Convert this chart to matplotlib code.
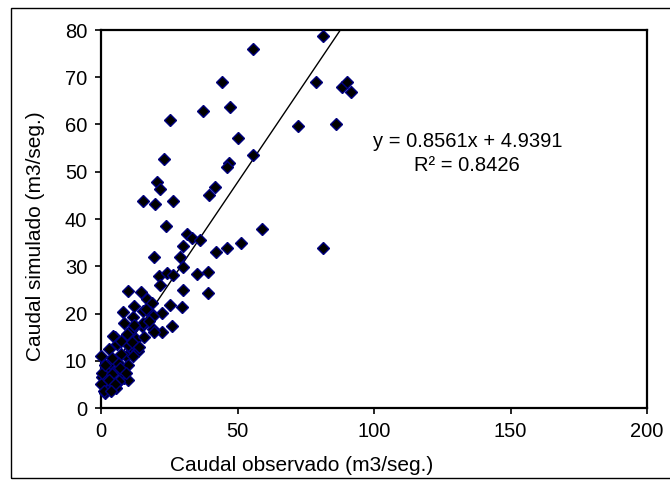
import matplotlib
matplotlib.use("Agg")
import matplotlib.pyplot as plt
from matplotlib.patches import Rectangle

plt.rcParams['font.family'] = ['Liberation Sans', 'DejaVu Sans']

observado = [
    81.4, 55.8, 44.5, 78.7, 88.2, 90.0, 91.4, 47.3, 37.3, 25.4,
    72.3, 86.1, 50.2, 55.8, 23.1, 47.0, 46.2, 20.5, 21.6, 41.8,
    39.5, 15.5, 19.6, 26.2, 23.8, 58.8, 31.5, 33.2, 36.3, 29.9,
    51.4, 46.3, 42.0, 81.2, 19.4, 28.9, 29.9, 39.3, 35.0, 21.4,
    24.3, 26.2, 21.6, 29.9, 39.3, 9.8, 14.5, 16.7, 18.7, 25.1,
    29.6, 22.3, 15.5, 18.0, 11.6, 19.2, 8.0, 25.9, 19.2, 22.4,
    14.9, 10.6, 5.1, 9.4, 13.0, 10.6, 13.3, 0.0, 9.0, 5.7,
    10.0, 2.7, 4.5, 0.2, 8.5, 6.3, 2.1, 0.0, 4.5, 9.4,
    12.5, 15.5, 19.5, 10.0, 13.7, 7.3, 3.3, 6.3, 0.5, 3.9,
    7.6, 10.0, 6.6, 2.9, 5.4, 1.5, 3.0, 6.0, 7.5, 11.5,
    12.0, 15.8, 8.5, 4.0, 1.5, 7.0, 11.8, 3.0, 5.0, 9.0,
    1.0, 3.8, 12.0, 17.5, 14.0, 16.5,
]
simulado = [
    78.8, 75.9, 68.9, 68.9, 67.9, 68.9, 66.9, 63.7, 62.8, 60.9,
    59.6, 60.2, 57.2, 53.6, 52.8, 51.8, 50.9, 47.9, 46.4, 46.7,
    45.0, 43.9, 43.2, 43.9, 38.5, 37.9, 36.9, 35.9, 35.6, 34.2,
    34.9, 33.8, 33.1, 33.9, 32.0, 32.0, 29.9, 28.7, 28.3, 27.9,
    28.6, 28.1, 26.0, 25.0, 24.4, 24.8, 24.5, 23.0, 22.3, 21.9,
    21.3, 20.2, 20.6, 20.4, 19.2, 19.5, 20.3, 17.3, 16.7, 16.1,
    17.4, 16.2, 15.0, 15.2, 14.5, 13.0, 12.0, 11.0, 10.9, 9.8,
    9.1, 8.7, 7.5, 6.6, 6.3, 5.4, 4.5, 5.0, 15.2, 15.7,
    17.4, 17.9, 16.1, 13.3, 12.1, 11.4, 9.6, 9.5, 7.5, 7.3,
    7.7, 5.9, 5.8, 4.0, 4.2, 3.2, 12.5, 13.5, 14.2, 14.0,
    17.6, 15.0, 18.0, 10.5, 9.0, 8.5, 11.0, 6.0, 5.0, 7.5,
    3.5, 3.6, 21.5, 18.5, 13.0, 21.0,
]

# linear trendline as printed on the chart
pendiente = 0.8561
intercepto = 4.9391
r2 = 0.8426

x_ticks = [0, 50, 100, 150, 200]
y_ticks = [0, 10, 20, 30, 40, 50, 60, 70, 80]

fig = plt.figure(figsize=(6.7, 4.86), dpi=100)
# chart area frame (runs off the right edge, as in the original)
fig.patches.append(Rectangle((11 / 670, 8 / 486), 1.0, 470 / 486,
                             transform=fig.transFigure, fill=False,
                             edgecolor='black', linewidth=1.0))

ax = fig.add_axes([101 / 670, 78 / 486, 546 / 670, 378 / 486])

x0, x1 = min(observado), max(observado)
ax.plot([x0, x1], [pendiente * x0 + intercepto, pendiente * x1 + intercepto],
        color='black', linewidth=1.0, zorder=2)
ax.plot(observado, simulado, linestyle='none', marker='D', markersize=6,
        markerfacecolor='black', markeredgecolor='#000080',
        markeredgewidth=1.0, zorder=3, clip_on=False)

ax.set_xlim(0, 200)
ax.set_ylim(0, 80)
ax.set_xticks(x_ticks)
ax.set_yticks(y_ticks)
ax.tick_params(direction='out', length=4, width=1.2, labelsize=14.5, pad=6)
for s in ax.spines.values():
    s.set_linewidth(1.6)

# axis titles sit off-centre in the original, so place them by hand
fig.text(302 / 670, 1 - 465 / 486, 'Caudal observado (m3/seg.)',
         ha='center', va='center', fontsize=15)
fig.text(36 / 670, 1 - 236 / 486, 'Caudal simulado (m3/seg.)',
         ha='center', va='center', rotation=90, fontsize=15)

ax.text(134.2, 56.4, 'y = %.4fx + %.4f' % (pendiente, intercepto),
        ha='center', va='center', fontsize=14.5)
ax.text(134.2, 51.4, 'R² = %.4f' % r2, ha='center', va='center', fontsize=14.5)

fig.savefig('out.png', dpi=100)
